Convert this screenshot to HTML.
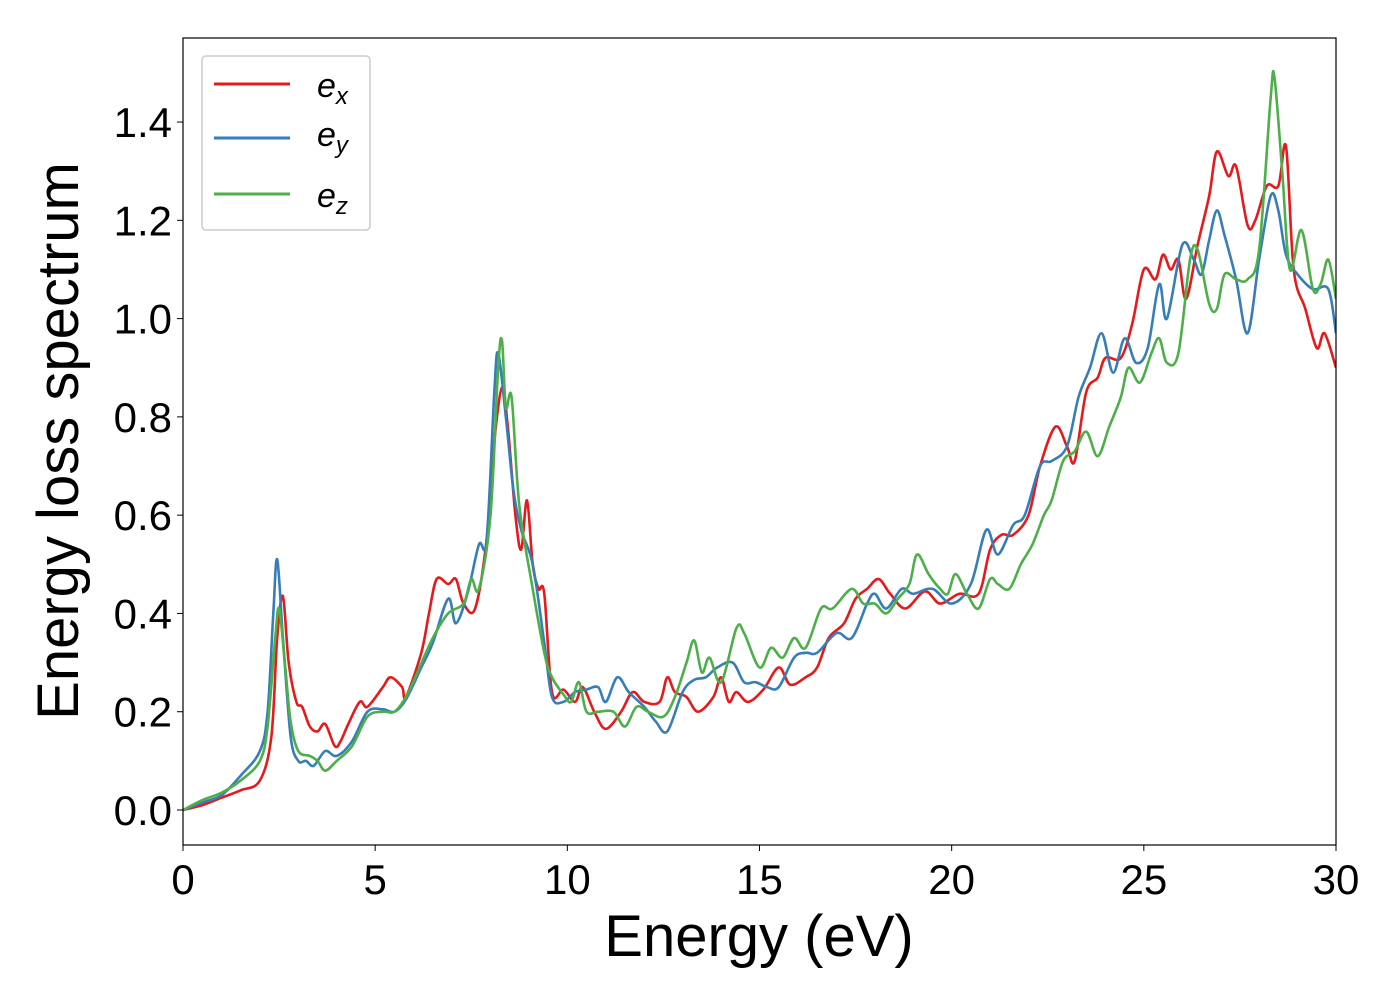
<!DOCTYPE html>
<html><head><meta charset="utf-8"><style>
html,body{margin:0;padding:0;background:#fff;}
svg{display:block;font-family:"Liberation Sans","DejaVu Sans",sans-serif;}
</style></head><body>
<svg id="chart" width="1400" height="1000" viewBox="0 0 1400 1000" xmlns="http://www.w3.org/2000/svg">
<rect x="0" y="0" width="1400" height="1000" fill="#fff"/>
<g id="series"></g>
<g id="axes"></g>
<text x="759" y="956" font-size="58" text-anchor="middle" fill="#000">Energy (eV)</text>
<text transform="translate(78,441) rotate(-90)" font-size="58" text-anchor="middle" fill="#000">Energy loss spectrum</text>
<g>
<rect x="202" y="56" width="168" height="174" rx="4" fill="#fff" stroke="#ccc" stroke-width="1.5"/>
<g><line x1="214" y1="84" x2="290" y2="84" stroke="#e41a1c" stroke-width="3"/><text x="317" y="97" font-size="34" font-style="italic">e<tspan font-size="24" dy="7">x</tspan></text></g>
<g><line x1="214" y1="138" x2="290" y2="138" stroke="#377eb8" stroke-width="3"/><text x="317" y="146" font-size="34" font-style="italic">e<tspan font-size="24" dy="7">y</tspan></text></g>
<g><line x1="214" y1="194" x2="290" y2="194" stroke="#4daf4a" stroke-width="3"/><text x="317" y="207" font-size="34" font-style="italic">e<tspan font-size="24" dy="7">z</tspan></text></g>
</g>
</svg>
<script>
const xTicks=[0,5,10,15,20,25,30];
const yTicks=[0.0,0.2,0.4,0.6,0.8,1.0,1.2,1.4];
const yTickLabels=["0.0","0.2","0.4","0.6","0.8","1.0","1.2","1.4"];
const exX=[0,0.5,1,1.5,2,2.3,2.45,2.6,2.75,2.95,3.1,3.3,3.5,3.7,3.95,4.1,4.3,4.6,4.8,5.2,5.4,5.7,5.8,6.2,6.4,6.6,6.9,7.1,7.3,7.6,7.9,8.1,8.3,8.45,8.65,8.8,8.95,9.1,9.25,9.4,9.6,9.9,10.2,10.4,10.7,11,11.4,11.7,12,12.4,12.6,12.8,13.1,13.4,13.8,14,14.2,14.4,14.7,15.1,15.5,15.8,16.2,16.5,16.8,17.2,17.5,17.8,18.1,18.4,18.8,19.3,19.7,20.2,20.7,21,21.3,21.6,22,22.3,22.7,23,23.2,23.5,23.8,24,24.4,24.7,25,25.3,25.5,25.7,25.9,26.1,26.4,26.7,26.9,27.2,27.4,27.7,27.9,28.2,28.5,28.7,28.9,29.2,29.5,29.7,30];
const exY=[0,0.01,0.025,0.04,0.06,0.15,0.35,0.435,0.3,0.22,0.21,0.17,0.16,0.175,0.13,0.14,0.175,0.22,0.21,0.25,0.27,0.25,0.23,0.32,0.4,0.47,0.46,0.47,0.42,0.41,0.55,0.75,0.86,0.78,0.6,0.53,0.63,0.5,0.45,0.44,0.24,0.245,0.22,0.25,0.2,0.165,0.2,0.24,0.22,0.22,0.27,0.24,0.23,0.2,0.23,0.27,0.22,0.24,0.22,0.245,0.29,0.255,0.27,0.29,0.35,0.38,0.43,0.45,0.47,0.44,0.41,0.445,0.42,0.44,0.44,0.53,0.56,0.56,0.6,0.7,0.78,0.74,0.71,0.85,0.88,0.92,0.92,0.99,1.1,1.08,1.13,1.1,1.12,1.04,1.15,1.25,1.34,1.29,1.31,1.19,1.2,1.27,1.27,1.35,1.1,1.02,0.94,0.97,0.9];
const eyX=[0,0.5,1,1.5,2,2.2,2.35,2.45,2.6,2.8,3,3.2,3.4,3.7,4,4.4,4.8,5.2,5.5,5.8,6.2,6.5,6.9,7.1,7.4,7.7,7.9,8.1,8.2,8.4,8.6,8.8,9.1,9.4,9.6,9.9,10.2,10.5,10.8,11,11.3,11.6,12,12.3,12.6,13,13.3,13.6,13.9,14.3,14.6,14.9,15.2,15.5,15.9,16.2,16.5,17,17.4,17.8,18,18.3,18.7,19,19.5,20,20.5,20.9,21.2,21.6,21.9,22.3,22.6,23,23.3,23.6,23.9,24.2,24.5,24.8,25.1,25.4,25.6,26,26.3,26.5,26.7,26.9,27.1,27.4,27.7,28,28.3,28.5,28.7,29,29.4,29.8,30];
const eyY=[0,0.015,0.03,0.07,0.12,0.2,0.4,0.51,0.35,0.15,0.1,0.1,0.09,0.12,0.11,0.14,0.2,0.205,0.2,0.225,0.29,0.34,0.43,0.38,0.44,0.54,0.55,0.85,0.93,0.8,0.65,0.57,0.5,0.34,0.23,0.22,0.24,0.245,0.25,0.22,0.27,0.24,0.21,0.18,0.16,0.24,0.265,0.27,0.29,0.3,0.26,0.26,0.25,0.25,0.31,0.32,0.32,0.36,0.35,0.42,0.44,0.41,0.45,0.44,0.45,0.42,0.46,0.57,0.52,0.58,0.6,0.7,0.71,0.74,0.84,0.9,0.97,0.89,0.96,0.91,0.94,1.07,1.0,1.15,1.12,1.09,1.16,1.22,1.17,1.08,0.97,1.12,1.25,1.22,1.13,1.09,1.06,1.06,0.97];
const ezX=[0,0.5,1,1.5,2,2.2,2.4,2.5,2.65,2.8,3,3.3,3.5,3.7,4,4.4,4.8,5.2,5.5,5.8,6.1,6.5,6.9,7.3,7.5,7.7,8,8.2,8.3,8.4,8.55,8.75,9.1,9.4,9.6,9.9,10.1,10.3,10.5,10.8,11.2,11.5,11.8,12.1,12.5,12.8,13.1,13.3,13.5,13.7,14,14.4,14.6,15,15.3,15.6,15.9,16.2,16.6,16.9,17.4,17.7,18,18.3,18.6,18.9,19.1,19.4,19.7,19.9,20.1,20.4,20.7,21,21.2,21.5,21.8,22.1,22.4,22.6,22.9,23.2,23.5,23.8,24.1,24.4,24.6,24.9,25.2,25.4,25.6,25.9,26.2,26.4,26.7,26.9,27.1,27.4,27.7,28,28.3,28.4,28.6,28.8,29.1,29.4,29.6,29.8,30];
const ezY=[0,0.02,0.035,0.06,0.1,0.17,0.35,0.41,0.3,0.18,0.12,0.11,0.1,0.08,0.1,0.13,0.19,0.2,0.2,0.23,0.28,0.35,0.4,0.42,0.47,0.45,0.6,0.9,0.955,0.82,0.84,0.62,0.45,0.32,0.27,0.235,0.22,0.26,0.2,0.2,0.2,0.17,0.21,0.2,0.19,0.23,0.3,0.345,0.28,0.31,0.26,0.37,0.36,0.29,0.33,0.31,0.35,0.33,0.41,0.41,0.45,0.42,0.42,0.4,0.43,0.46,0.52,0.48,0.45,0.44,0.48,0.44,0.41,0.47,0.46,0.45,0.5,0.54,0.6,0.63,0.71,0.73,0.77,0.72,0.78,0.84,0.9,0.87,0.93,0.96,0.91,0.93,1.12,1.14,1.03,1.02,1.09,1.08,1.08,1.14,1.45,1.49,1.3,1.1,1.18,1.06,1.07,1.12,1.04];

const L=183,R=1336,T=38,B=845;
const sx=v=>L+(v-0)*(R-L)/30;
const sy=v=>810-v*491.4;
const NS="http://www.w3.org/2000/svg";
const series=document.getElementById('series');
function smoothPath(xs,ys){
  const p=xs.map((x,i)=>[sx(x),sy(ys[i])]);
  let d="M"+p[0][0].toFixed(1)+","+p[0][1].toFixed(1);
  for(let i=0;i<p.length-1;i++){
    const p0=p[Math.max(0,i-1)],p1=p[i],p2=p[i+1],p3=p[Math.min(p.length-1,i+2)];
    const c1=[p1[0]+(p2[0]-p0[0])/6,p1[1]+(p2[1]-p0[1])/6];
    const c2=[p2[0]-(p3[0]-p1[0])/6,p2[1]-(p3[1]-p1[1])/6];
    d+="C"+c1[0].toFixed(1)+","+c1[1].toFixed(1)+" "+c2[0].toFixed(1)+","+c2[1].toFixed(1)+" "+p2[0].toFixed(1)+","+p2[1].toFixed(1);
  }
  return d;
}
const clip=document.createElementNS(NS,'clipPath');clip.setAttribute('id','pc');
const cr=document.createElementNS(NS,'rect');cr.setAttribute('x',L);cr.setAttribute('y',T);cr.setAttribute('width',R-L);cr.setAttribute('height',B-T);
clip.appendChild(cr);document.getElementById('chart').appendChild(clip);
series.setAttribute('clip-path','url(#pc)');
function addLine(xs,ys,color,name){
  const pth=document.createElementNS(NS,'path');
  pth.setAttribute('d',smoothPath(xs,ys));
  pth.setAttribute('fill','none');pth.setAttribute('stroke',color);
  pth.setAttribute('stroke-width','2.6');pth.setAttribute('stroke-linejoin','round');
  
  
  series.appendChild(pth);
}
addLine(exX,exY,'#e41a1c','series-ex-line');
addLine(eyX,eyY,'#377eb8','series-ey-line');
addLine(ezX,ezY,'#4daf4a','series-ez-line');

const axes=document.getElementById('axes');
const frame=document.createElementNS(NS,'rect');
frame.setAttribute('x',L);frame.setAttribute('y',T);frame.setAttribute('width',R-L);frame.setAttribute('height',B-T);
frame.setAttribute('fill','none');frame.setAttribute('stroke','#000');frame.setAttribute('stroke-width','1.2');


axes.appendChild(frame);
xTicks.forEach(v=>{
  const ln=document.createElementNS(NS,'line');
  ln.setAttribute('x1',sx(v));ln.setAttribute('x2',sx(v));ln.setAttribute('y1',B);ln.setAttribute('y2',B+6);ln.setAttribute('stroke','#000');
  
  
  axes.appendChild(ln);
  const t=document.createElementNS(NS,'text');
  t.setAttribute('x',sx(v));t.setAttribute('y',894);t.setAttribute('font-size','42');t.setAttribute('text-anchor','middle');
  t.textContent=String(v);
  
  
  axes.appendChild(t);
});
yTicks.forEach((v,i)=>{
  const ln=document.createElementNS(NS,'line');
  ln.setAttribute('x1',L-6);ln.setAttribute('x2',L);ln.setAttribute('y1',sy(v));ln.setAttribute('y2',sy(v));ln.setAttribute('stroke','#000');
  
  
  axes.appendChild(ln);
  const t=document.createElementNS(NS,'text');
  t.setAttribute('x',172);t.setAttribute('y',sy(v)+15);t.setAttribute('font-size','42');t.setAttribute('text-anchor','end');
  t.textContent=yTickLabels[i];
  
  
  axes.appendChild(t);
});
</script>
</body></html>
